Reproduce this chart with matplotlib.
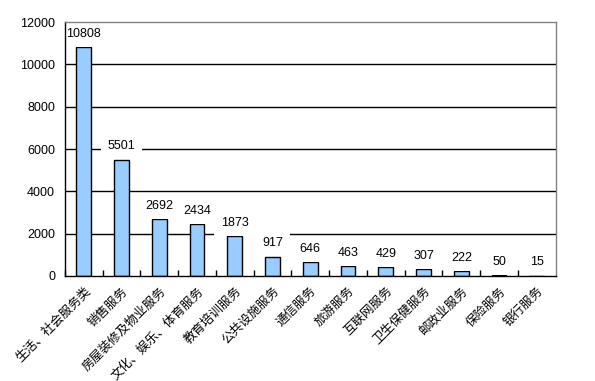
import matplotlib.pyplot as plt
import numpy as np

plt.rcParams['font.family'] = ['Liberation Sans', 'Noto Sans CJK SC', 'DejaVu Sans']

categories = ["生活、社会服务类", "销售服务", "房屋装修及物业服务", "文化、娱乐、体育服务",
              "教育培训服务", "公共设施服务", "通信服务", "旅游服务", "互联网服务",
              "卫生保健服务", "邮政业服务", "保险服务", "银行服务"]
values = [10808, 5501, 2692, 2434, 1873, 917, 646, 463, 429, 307, 222, 50, 15]
y_ticks = [0, 2000, 4000, 6000, 8000, 10000, 12000]

fig = plt.figure(figsize=(5.95, 3.81), dpi=100)
ax = fig.add_axes([0.109, 0.2756, 0.825, 0.6666])

x = np.arange(len(categories))
ax.bar(x, values, width=0.39, color="#99CCFF", edgecolor="black", linewidth=1, zorder=3)

# gridlines
for t in y_ticks[1:-1]:
    ax.axhline(t, color="black", linewidth=1, zorder=1)

ax.set_xlim(-0.5, len(categories) - 0.5)
ax.set_ylim(0, 12000)
ax.set_yticks(y_ticks)
ax.set_yticklabels([str(t) for t in y_ticks], fontsize=9)
ax.tick_params(axis="y", length=0, pad=7)

# category boundary ticks
ax.set_xticks(np.arange(-0.5, len(categories) - 0.5, 1), minor=False)
ax.set_xticklabels([])
ax.tick_params(axis="x", direction="in", length=4, width=1)
ax.set_xticks(x, minor=True)
ax.set_xticklabels(categories, minor=True, rotation=45, ha="right", va="top",
                   rotation_mode="anchor", fontsize=9,
                   family=["Noto Sans CJK SC"])
ax.tick_params(axis="x", which="minor", length=0, pad=6)

for s in ["left", "bottom"]:
    ax.spines[s].set_color("black")
    ax.spines[s].set_linewidth(1)
for s in ["top", "right"]:
    ax.spines[s].set_color("#808080")
    ax.spines[s].set_linewidth(1)
for s in ax.spines.values():
    s.set_zorder(5)

# value labels
for xi, v in zip(x, values):
    ax.annotate(str(v), (xi, v), xytext=(0, 9.5), textcoords="offset points",
                ha="center", va="center", fontsize=9, zorder=4,
                bbox=dict(boxstyle="square,pad=0.55", fc="white", ec="none"))

fig.savefig("out.png", dpi=100)
